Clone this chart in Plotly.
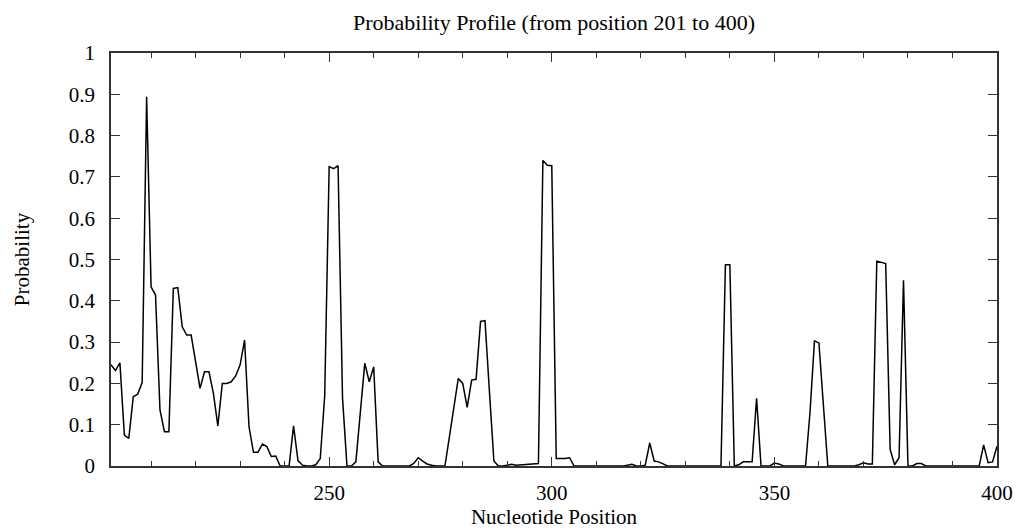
import plotly.graph_objects as go

positions = list(range(201, 401))

probability = [
    # 201-210
    0.245, 0.231, 0.250, 0.075, 0.067, 0.168, 0.174, 0.202, 0.894, 0.434,
    # 211-220
    0.414, 0.136, 0.083, 0.083, 0.430, 0.432, 0.337, 0.317, 0.317, 0.250,
    # 221-230
    0.188, 0.228, 0.228, 0.176, 0.097, 0.200, 0.200, 0.204, 0.218, 0.245,
    # 231-240
    0.305, 0.095, 0.033, 0.033, 0.053, 0.047, 0.023, 0.024, 0.000, 0.000,
    # 241-250
    0.000, 0.097, 0.013, 0.002, 0.000, 0.000, 0.003, 0.018, 0.170, 0.725,
    # 251-260
    0.720, 0.727, 0.165, 0.000, 0.000, 0.010, 0.130, 0.249, 0.204, 0.240,
    # 261-270
    0.010, 0.000, 0.000, 0.000, 0.000, 0.000, 0.000, 0.000, 0.006, 0.020,
    # 271-280
    0.012, 0.005, 0.002, 0.000, 0.000, 0.000, 0.070, 0.140, 0.212, 0.200,
    # 281-290
    0.142, 0.208, 0.210, 0.350, 0.352, 0.180, 0.012, 0.000, 0.000, 0.002,
    # 291-300
    0.004, 0.002, 0.003, 0.003, 0.004, 0.005, 0.006, 0.740, 0.728, 0.727,
    # 301-310
    0.018, 0.018, 0.018, 0.020, 0.000, 0.000, 0.000, 0.000, 0.000, 0.000,
    # 311-320
    0.000, 0.000, 0.000, 0.000, 0.000, 0.000, 0.002, 0.004, 0.000, 0.000,
    # 321-330
    0.002, 0.056, 0.012, 0.010, 0.005, 0.000, 0.000, 0.000, 0.000, 0.000,
    # 331-340
    0.000, 0.000, 0.000, 0.000, 0.000, 0.000, 0.000, 0.000, 0.487, 0.487,
    # 341-350
    0.000, 0.003, 0.010, 0.010, 0.010, 0.164, 0.000, 0.000, 0.000, 0.007,
    # 351-360
    0.005, 0.000, 0.000, 0.000, 0.000, 0.000, 0.000, 0.130, 0.303, 0.298,
    # 361-370
    0.140, 0.000, 0.000, 0.000, 0.000, 0.000, 0.000, 0.000, 0.003, 0.008,
    # 371-380
    0.005, 0.005, 0.496, 0.493, 0.490, 0.040, 0.003, 0.020, 0.450, 0.000,
    # 381-390
    0.000, 0.006, 0.006, 0.000, 0.000, 0.000, 0.000, 0.000, 0.000, 0.000,
    # 391-400
    0.000, 0.000, 0.000, 0.000, 0.000, 0.000, 0.051, 0.008, 0.010, 0.048,
]

x_major_ticks = [250, 300, 350, 400]
x_tick_labels = ["250", "300", "350", "400"]
y_ticks = [0, 0.1, 0.2, 0.3, 0.4, 0.5, 0.6, 0.7, 0.8, 0.9, 1]
y_tick_labels = ["0", "0.1", "0.2", "0.3", "0.4", "0.5", "0.6", "0.7", "0.8", "0.9", "1"]

FONT = "Liberation Serif"
FSIZE = 21
FRAME = "#333333"

fig = go.Figure()
fig.add_trace(go.Scatter(
    x=positions, y=probability, mode="lines",
    line=dict(color="black", width=1.5),
    showlegend=False, hoverinfo="x+y",
))

fig.update_layout(
    width=1016, height=532,
    margin=dict(l=111, r=19, t=53, b=66),
    paper_bgcolor="white", plot_bgcolor="white",
    font=dict(family=FONT, size=FSIZE, color="black"),
    title=dict(
        text="Probability Profile (from position 201 to 400)",
        x=0.5, xref="paper", xanchor="center",
        y=1 - 22 / 532, yref="container", yanchor="middle",
        font=dict(family=FONT, size=22, color="black"),
    ),
    xaxis=dict(
        range=[201, 400], automargin=False,
        tickmode="array", tickvals=x_major_ticks, ticktext=x_tick_labels,
        ticks="inside", ticklen=9, tickwidth=1.3, tickcolor=FRAME,
        minor=dict(dtick=10, tick0=200, ticks="inside", ticklen=5, tickwidth=1.3, tickcolor=FRAME),
        showline=True, linecolor=FRAME, linewidth=1.5, mirror="ticks",
        showgrid=False, zeroline=False,
        ticklabelstandoff=7,
        tickfont=dict(family=FONT, size=FSIZE, color="black"),
        title=dict(text="Nucleotide Position", standoff=3,
                   font=dict(family=FONT, size=FSIZE, color="black")),
    ),
    yaxis=dict(
        range=[0, 1], automargin=False,
        tickmode="array", tickvals=y_ticks, ticktext=y_tick_labels,
        ticks="inside", ticklen=9, tickwidth=1.3, tickcolor=FRAME,
        showline=True, linecolor=FRAME, linewidth=1.5, mirror="ticks",
        showgrid=False, zeroline=False,
        ticklabelstandoff=10,
        tickfont=dict(family=FONT, size=FSIZE, color="black"),
        title=dict(text="Probability", standoff=33,
                   font=dict(family=FONT, size=FSIZE, color="black")),
    ),
)

fig.write_html("out.html", config={"displayModeBar": False},
               post_script="document.body.style.margin='0';")
